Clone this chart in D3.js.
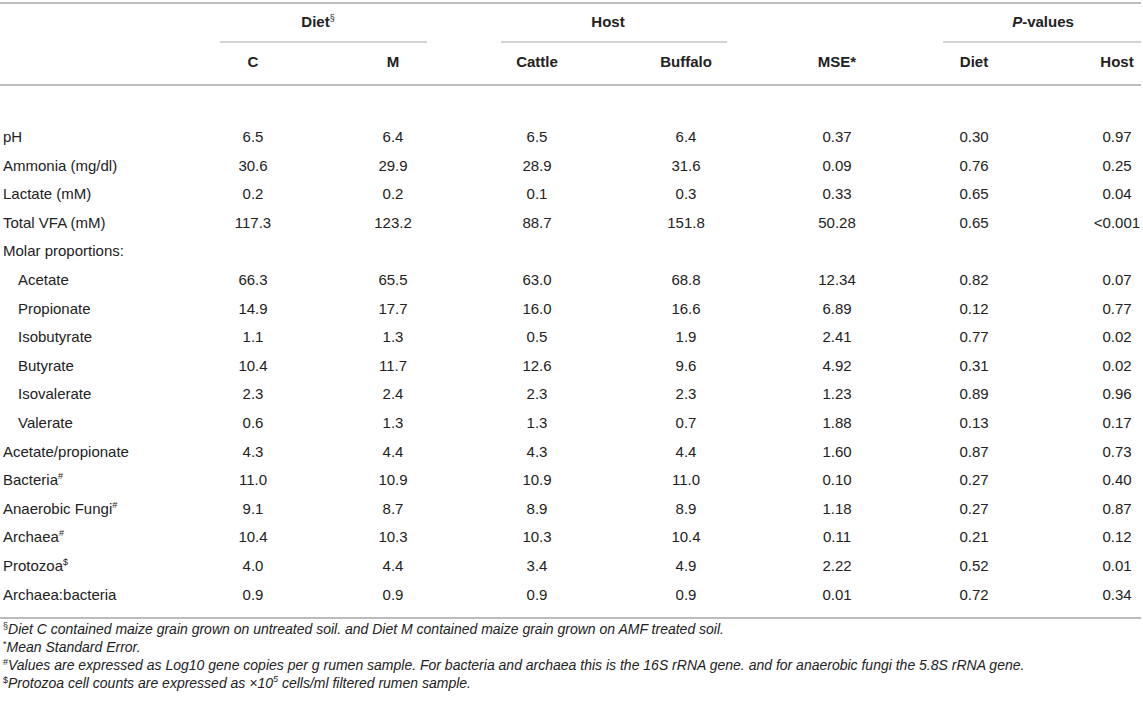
<!DOCTYPE html>
<html>
<head>
<meta charset="utf-8">
<script src="https://cdn.jsdelivr.net/npm/d3@7"></script>
<style>
  html, body { margin: 0; padding: 0; background: #fff; }
  svg text { font-family: "Liberation Sans", Arial, Helvetica, sans-serif; }
</style>
</head>
<body>
<svg id="chart" width="1143" height="708"></svg>
<script>
// ---------------- DATA ----------------
const rowLabels = ["pH", "Ammonia (mg/dl)", "Lactate (mM)", "Total VFA (mM)", "Molar proportions:",
  "Acetate", "Propionate", "Isobutyrate", "Butyrate", "Isovalerate", "Valerate",
  "Acetate/propionate", "Bacteria", "Anaerobic Fungi", "Archaea", "Protozoa", "Archaea:bacteria"];
const rowSup = ["", "", "", "", "", "", "", "", "", "", "", "", "#", "#", "#", "$", ""];
const rowIndented = [false, false, false, false, false, true, true, true, true, true, true,
  false, false, false, false, false, false];

const dietC     = ["6.5", "30.6", "0.2", "117.3", "", "66.3", "14.9", "1.1", "10.4", "2.3", "0.6", "4.3", "11.0", "9.1", "10.4", "4.0", "0.9"];
const dietM     = ["6.4", "29.9", "0.2", "123.2", "", "65.5", "17.7", "1.3", "11.7", "2.4", "1.3", "4.4", "10.9", "8.7", "10.3", "4.4", "0.9"];
const hostCattle  = ["6.5", "28.9", "0.1", "88.7", "", "63.0", "16.0", "0.5", "12.6", "2.3", "1.3", "4.3", "10.9", "8.9", "10.3", "3.4", "0.9"];
const hostBuffalo = ["6.4", "31.6", "0.3", "151.8", "", "68.8", "16.6", "1.9", "9.6", "2.3", "0.7", "4.4", "11.0", "8.9", "10.4", "4.9", "0.9"];
const mse       = ["0.37", "0.09", "0.33", "50.28", "", "12.34", "6.89", "2.41", "4.92", "1.23", "1.88", "1.60", "0.10", "1.18", "0.11", "2.22", "0.01"];
const pDiet     = ["0.30", "0.76", "0.65", "0.65", "", "0.82", "0.12", "0.77", "0.31", "0.89", "0.13", "0.87", "0.27", "0.27", "0.21", "0.52", "0.72"];
const pHost     = ["0.97", "0.25", "0.04", "<0.001", "", "0.07", "0.77", "0.02", "0.02", "0.96", "0.17", "0.73", "0.40", "0.87", "0.12", "0.01", "0.34"];

const columnKeys = ["C", "M", "Cattle", "Buffalo", "MSE", "pDiet", "pHost"];
const columnHeaders = ["C", "M", "Cattle", "Buffalo", "MSE*", "Diet", "Host"];
const groupHeaders = ["Diet", "Host", "P-values"];

const footnotes = [
  { mark: "§", text: "Diet C contained maize grain grown on untreated soil. and Diet M contained maize grain grown on AMF treated soil." },
  { mark: "*", text: "Mean Standard Error." },
  { mark: "#", text: "Values are expressed as Log10 gene copies per g rumen sample. For bacteria and archaea this is the 16S rRNA gene. and for anaerobic fungi the 5.8S rRNA gene." },
  { mark: "$", text: "Protozoa cell counts are expressed as ×10", sup: "5", tail: " cells/ml filtered rumen sample." }
];

// ---------------- LAYOUT ----------------
const W = 1143, H = 708;
const svg = d3.select("#chart");
const textColor = "#222";
const lineColor = "#a6a6a6";

const columns = [dietC, dietM, hostCattle, hostBuffalo, mse, pDiet, pHost];

const x = d3.scaleOrdinal()
  .domain(columnKeys)
  .range([253, 393, 537, 686, 837, 974, 1117]);

const y = d3.scalePoint()
  .domain(d3.range(rowLabels.length))
  .range([137, 594.6]);

const groupSpans = [
  { label: groupHeaders[0], x1: 220, x2: 427, tx: 318, sup: "§", italicP: false },
  { label: groupHeaders[1], x1: 501, x2: 727, tx: 608, sup: "", italicP: false },
  { label: groupHeaders[2], x1: 943, x2: 1141, tx: 1043, sup: "", italicP: true }
];

// horizontal rules
const rules = [
  { y: 3, w: 1.5 }, { y: 85, w: 1.5 }, { y: 618, w: 1.5 }
];
svg.selectAll("line.rule").data(rules).join("line")
  .attr("class", "rule")
  .attr("x1", 0).attr("x2", 1141)
  .attr("y1", d => d.y).attr("y2", d => d.y)
  .attr("stroke", lineColor).attr("stroke-width", d => d.w);

// group header underlines
svg.selectAll("line.group").data(groupSpans).join("line")
  .attr("class", "group")
  .attr("x1", d => d.x1).attr("x2", d => d.x2)
  .attr("y1", 42).attr("y2", 42)
  .attr("stroke", lineColor).attr("stroke-width", 1.2);

// group header labels
const gh = svg.selectAll("text.group").data(groupSpans).join("text")
  .attr("class", "group")
  .attr("x", d => d.tx).attr("y", 27)
  .attr("text-anchor", "middle")
  .attr("font-size", 15).attr("font-weight", "bold")
  .attr("fill", textColor);
gh.each(function(d) {
  const t = d3.select(this);
  if (d.italicP) {
    t.append("tspan").attr("font-style", "italic").text("P");
    t.append("tspan").text("-values");
  } else {
    t.append("tspan").text(d.label);
  }
  if (d.sup) {
    t.append("tspan").attr("font-size", 9).attr("font-weight", "normal")
      .attr("dy", -6).text(d.sup);
  }
});

// column headers
svg.selectAll("text.colhead").data(columnKeys).join("text")
  .attr("class", "colhead")
  .attr("x", d => x(d)).attr("y", 67)
  .attr("text-anchor", "middle")
  .attr("font-size", 15).attr("font-weight", "bold")
  .attr("fill", textColor)
  .text((d, i) => columnHeaders[i]);

// row labels
const rl = svg.selectAll("text.rowlabel").data(rowLabels).join("text")
  .attr("class", "rowlabel")
  .attr("x", (d, i) => rowIndented[i] ? 18 : 3)
  .attr("y", (d, i) => y(i) + 5)
  .attr("font-size", 15)
  .attr("fill", textColor);
rl.append("tspan").text(d => d);
rl.filter((d, i) => rowSup[i] !== "").append("tspan")
  .attr("font-size", 9).attr("dy", -6)
  .text((d) => rowSup[rowLabels.indexOf(d)]);

// cells
columnKeys.forEach((key, ci) => {
  svg.selectAll("text.cell-" + key).data(columns[ci]).join("text")
    .attr("class", "cell-" + key)
    .attr("x", x(key))
    .attr("y", (d, i) => y(i) + 5)
    .attr("text-anchor", "middle")
    .attr("font-size", 15)
    .attr("fill", textColor)
    .text(d => d);
});

// footnotes
const fy = d3.scalePoint().domain(d3.range(footnotes.length)).range([634, 688]);
const fn = svg.selectAll("text.foot").data(footnotes).join("text")
  .attr("class", "foot")
  .attr("x", 3)
  .attr("y", (d, i) => fy(i))
  .attr("font-size", 14)
  .attr("fill", textColor);
fn.append("tspan").attr("font-size", 9).attr("dy", -5).text(d => d.mark);
fn.append("tspan").attr("dy", 5).attr("font-style", "italic").text(d => d.text);
fn.filter(d => d.sup).append("tspan").attr("font-style", "italic")
  .attr("font-size", 9).attr("dy", -6).text(d => d.sup);
fn.filter(d => d.tail).append("tspan").attr("font-style", "italic")
  .attr("dy", 6).text(d => d.tail);
</script>
</body>
</html>
